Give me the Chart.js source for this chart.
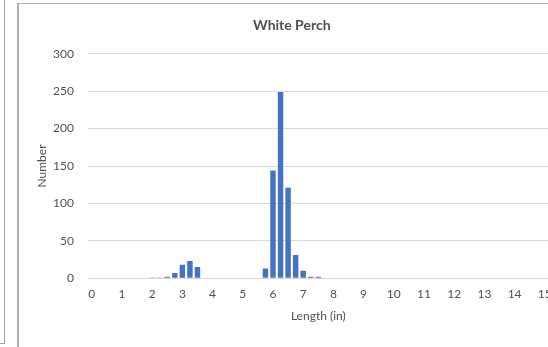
<!DOCTYPE html>
<html>
<head>
<meta charset="utf-8">
<script src="https://cdn.jsdelivr.net/npm/chart.js@4/dist/chart.umd.min.js"></script>
<style>
  html, body { margin: 0; padding: 0; background: #fff; overflow: hidden; width: 548px; height: 347px; }
  #wrap { position: absolute; left: 0; top: 0; width: 584px; height: 347px; }
  .frame { position: absolute; border-color: #a6a6a6; border-style: solid; border-width: 0; }
</style>
</head>
<body>
<div class="frame" style="left:4px; top:0; width:0; height:343px; border-left-width:1px;"></div>
<div class="frame" style="left:0; top:343px; width:5px; height:0; border-top-width:1px;"></div>
<div class="frame" style="left:17px; top:3px; width:560px; height:360px; border-left-width:2px; border-top-width:1px; border-color:#b0b0b0;"></div>
<div id="wrap"><canvas id="c" width="584" height="347"></canvas></div>
<script>
const chartTitle = "White Perch";
const xTitle = "Length (in)";
const yTitle = "Number";
const lengths = [2, 2.25, 2.5, 2.75, 3, 3.25, 3.5, 5.75, 6, 6.25, 6.5, 6.75, 7, 7.25, 7.5];
const counts  = [1, 1, 2, 7, 18, 23, 15, 13, 144, 249, 121, 31, 10, 2, 2];
const xMin = 0, xMax = 15, yMax = 300, yStep = 50;

const points = lengths.map((l, i) => ({ x: l, y: counts[i] }));
const fontFam = "Lato, 'Open Sans', sans-serif";
const textColor = "#505050";

new Chart(document.getElementById('c'), {
  type: 'bar',
  data: {
    datasets: [{
      data: points,
      backgroundColor: '#4472C4',
      borderWidth: 0,
      barPercentage: 0.72,
      categoryPercentage: 1.0
    }]
  },
  options: {
    responsive: false,
    animation: false,
    layout: { padding: { left: 35, right: 35.4, top: 17, bottom: 24 } },
    plugins: {
      legend: { display: false },
      tooltip: { enabled: false },
      title: {
        display: true,
        text: chartTitle,
        color: textColor,
        font: { family: fontFam, size: 14 },
        padding: { top: 0, bottom: 20 }
      }
    },
    scales: {
      x: {
        type: 'linear',
        min: xMin - 0.125,
        max: xMax + 0.125,
        offset: false,
        grid: { display: false, drawTicks: false },
        border: { display: false },
        ticks: {
          stepSize: 1,
          includeBounds: false,
          autoSkip: false,
          maxRotation: 0,
          color: textColor,
          font: { family: fontFam, size: 12 },
          padding: 9
        },
        title: {
          display: true,
          text: xTitle,
          color: textColor,
          font: { family: fontFam, size: 12 },
          padding: { top: -2, bottom: 0 }
        }
      },
      y: {
        min: 0,
        max: yMax,
        grid: { color: '#d9d9d9', drawTicks: false, lineWidth: 1 },
        border: { display: false },
        ticks: {
          stepSize: yStep,
          color: textColor,
          font: { family: fontFam, size: 12 },
          padding: 14
        },
        title: {
          display: true,
          text: yTitle,
          color: textColor,
          font: { family: fontFam, size: 12 },
          padding: { top: 0, bottom: 0 }
        },
        afterFit: (s) => { s.width = 53; }
      }
    }
  }
});
</script>
</body>
</html>
